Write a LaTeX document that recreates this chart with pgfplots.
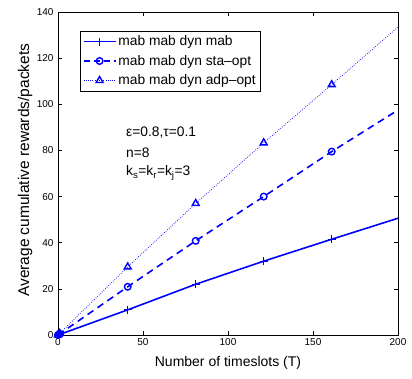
\documentclass[border=0pt]{standalone}
\usepackage{pgfplots}
\pgfplotsset{compat=1.18}
\usepackage{fontspec}
\setmainfont{Liberation Sans}
\begin{document}
\begin{tikzpicture}
\begin{axis}[
  scale only axis,
  width=340pt, height=323pt,
  xmin=0, xmax=200, ymin=0, ymax=140,
  xtick={0,50,100,150,200},
  ytick={0,20,40,60,80,100,120,140},
  tick align=inside,
  major tick length=4pt,
  tick style={black, line width=0.5pt},
  axis line style={black, line width=0.8pt},
  tick label style={font=\fontsize{10}{12}\selectfont},
  yticklabel style={xshift=-1pt},
  /pgf/number format/assume math mode=true,
  xlabel={Number of timeslots (T)},
  ylabel={Average cumulative rewards/packets},
  xlabel style={font=\fontsize{14}{16}\selectfont, at={(axis description cs:0.5,-0.085)}, anchor=center},
  ylabel style={font=\fontsize{15.5}{17}\selectfont, at={(axis description cs:-0.097,0.51)}, anchor=center, rotate=0},
  legend style={at={(0.065,0.941)}, anchor=north west,
    font=\fontsize{13.8}{16}\selectfont, row sep=4pt, inner sep=2.5pt,
    nodes={inner sep=2pt}},
  legend cell align=left,
  clip=false,
]
\addplot[blue, line width=1.6pt, mark=+, mark size=4pt, mark options={solid, line width=1.3pt}, mark indices={1,2,3,4,5,6},
  legend image code/.code={\draw[blue, line width=1.6pt] (0pt,0pt) -- (32pt,0pt); \draw[blue, line width=1.3pt] plot[mark=+, mark size=4pt, only marks] coordinates {(16pt,0pt)};}]
  coordinates {(0,0) (1,0.25) (41,10.9) (81,22) (121,32) (161,41.5) (200,50.6)};
\addlegendentry{mab mab dyn mab}
\addplot[blue, line width=1.6pt, dash pattern=on 7pt off 5pt, mark=o, mark size=3.3pt, mark options={solid, line width=1.4pt}, mark indices={1,2,3,4,5,6},
  legend image code/.code={\draw[blue, line width=1.6pt, dash pattern=on 6pt off 4pt] (0pt,0pt) -- (32pt,0pt); \draw[blue, line width=1.4pt] plot[mark=o, mark size=3.3pt, only marks] coordinates {(16pt,0pt)};}]
  coordinates {(0,0) (1,0.5) (41,20.9) (81,40.8) (121,60) (161,79.5) (200,97.5)};
\addlegendentry{mab mab dyn sta--opt}
\addplot[blue, line width=0.9pt, dash pattern=on 0.6pt off 1.6pt, mark=triangle, mark size=4pt, mark options={solid, line width=1.4pt}, mark indices={1,2,3,4,5,6},
  legend image code/.code={\draw[blue, line width=0.9pt, dash pattern=on 0.6pt off 1.6pt] (0pt,0pt) -- (32pt,0pt); \draw[blue, line width=1.4pt] plot[mark=triangle, mark size=4pt, only marks] coordinates {(16pt,0pt)};}]
  coordinates {(0,0) (1,0.7) (41,29.5) (81,57) (121,83.3) (161,108.5) (200,133.5)};
\addlegendentry{mab mab dyn adp--opt}
\node[anchor=west, font=\fontsize{13.8}{15}\selectfont] at (axis cs:38,87.6) {ε=0.8,τ=0.1};
\node[anchor=west, font=\fontsize{13.8}{15}\selectfont] at (axis cs:38,78.9) {n=8};
\node[anchor=west, font=\fontsize{13.8}{15}\selectfont] at (axis cs:38,70.2) {k\textsubscript{s}=k\textsubscript{r}=k\textsubscript{j}=3};
\path (rel axis cs:0,0) ++(-58pt,-44pt);
\path (rel axis cs:1,1) ++(14pt,12pt);
\end{axis}
\end{tikzpicture}
\end{document}
